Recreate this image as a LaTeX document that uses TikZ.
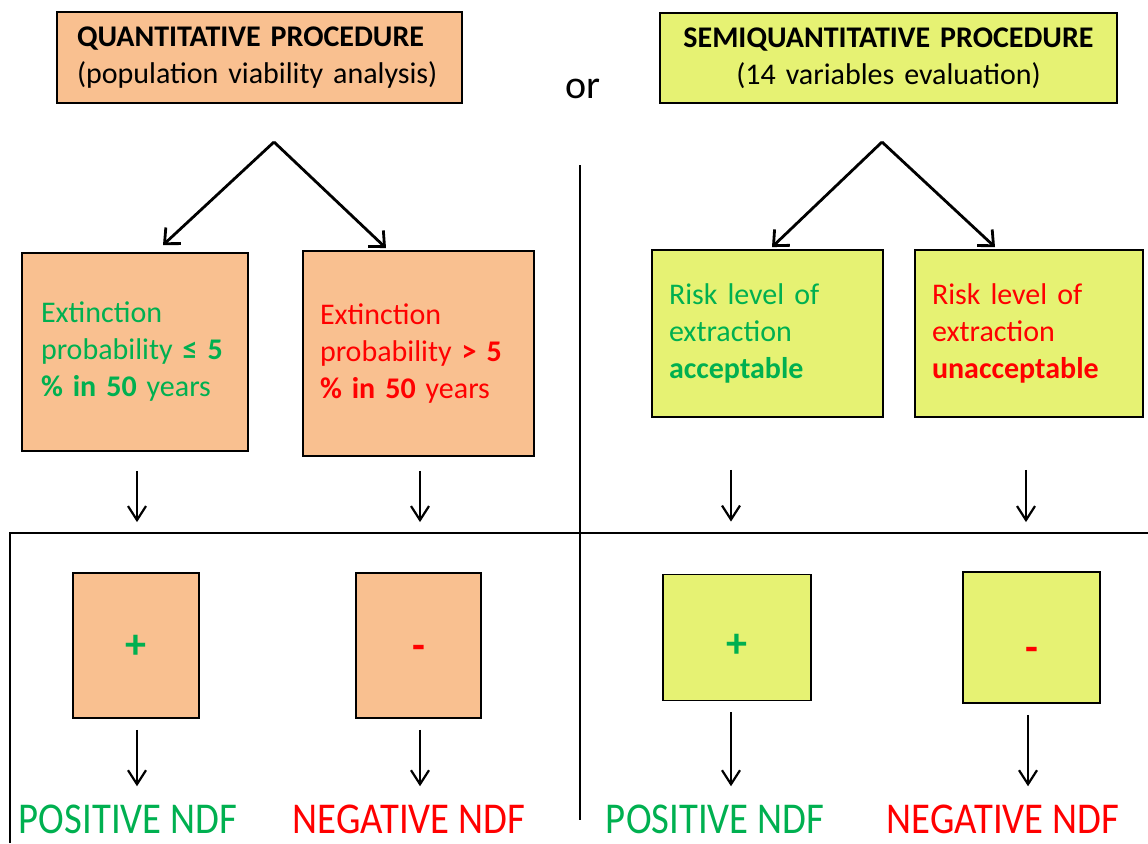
\documentclass[tikz,border=0pt]{standalone}
\usepackage{fontspec}
\setmainfont{Carlito}
\usetikzlibrary{arrows.meta}
\definecolor{peach}{HTML}{F9C090}
\definecolor{lime}{HTML}{E6F273}
\definecolor{okgreen}{HTML}{00B050}
\definecolor{badred}{HTML}{FF0000}
\newcommand{\boxfont}{\fontsize{30}{37}\selectfont}
\newcommand{\signfont}{\fontsize{42}{48}\selectfont\bfseries}
\newcommand{\ndffont}{\fontsize{44}{50}\selectfont}
\tikzset{
  box/.style={draw, line width=1.8pt, inner sep=0pt, font=\boxfont},
  peachbox/.style={box, fill=peach},
  limebox/.style={box, fill=lime},
  signbox/.style={font=\signfont, text height=20pt, text depth=0pt},
  split/.style={-{Straight Barb[length=12pt,width=22pt]}, line width=2.8pt},
  down/.style={-{Straight Barb[length=14pt,width=18pt]}, line width=2.2pt},
  ndf/.style={font=\ndffont, anchor=base, inner sep=0pt}
}
\begin{document}
\begin{tikzpicture}[x=1pt, y=-1pt]
\useasboundingbox (0,0) rectangle (1148,843);
% Procedures
\node[peachbox, minimum width=405pt, minimum height=91pt, text width=365pt, align=left]
  (quant) at (259.5,57.5) {\textbf{QUANTITATIVE PROCEDURE}\\(population viability analysis)};
\node[limebox, minimum width=457pt, minimum height=90pt, text width=420pt, align=center]
  (semi) at (888.5,58) {\textbf{SEMIQUANTITATIVE PROCEDURE}\\(14 variables evaluation)};
\node[font=\fontsize{40}{48}\selectfont, anchor=base] (or) at (583,98) {or};
% Results
\node[peachbox, minimum width=226pt, minimum height=198pt, text width=188pt, align=left, text=okgreen]
  (l1) at (135,352) {Extinction\\probability \textbf{≤ 5}\\\textbf{\% in 50} years};
\node[peachbox, minimum width=231pt, minimum height=205pt, text width=197pt, align=left, text=badred]
  (l2) at (418.5,353.5) {Extinction\\probability \textbf{> 5}\\\textbf{\% in 50} years};
\node[limebox, minimum width=231pt, minimum height=167pt, text width=197pt, align=left, text=okgreen]
  (r1) at (767.5,333.5) {Risk level of\\extraction\\\textbf{acceptable}};
\node[limebox, minimum width=228pt, minimum height=167pt, text width=194pt, align=left, text=badred]
  (r2) at (1029,333.5) {Risk level of\\extraction\\\textbf{unacceptable}};
% Signs
\node[peachbox, signbox, minimum width=126pt, minimum height=145pt, text=okgreen] (s1) at (136,645.5) {\raisebox{-3pt}{+}};
\node[peachbox, signbox, minimum width=125pt, minimum height=145pt, text=badred] (s2) at (418.5,645.5) {\raisebox{-4pt}{-}};
\node[limebox, signbox, minimum width=148pt, minimum height=126pt, text=okgreen] (s3) at (737,637.5) {\raisebox{-10pt}{+}};
\node[limebox, signbox, minimum width=137pt, minimum height=131pt, text=badred] (s4) at (1031.5,637.5) {\raisebox{-14pt}{-}};
% Outcomes
\node[ndf, text=okgreen] (p1) at (128,833) {\scalebox{0.88}[1]{POSITIVE NDF}};
\node[ndf, text=badred] (n1) at (409,833) {\scalebox{0.88}[1]{NEGATIVE NDF}};
\node[ndf, text=okgreen] (p2) at (715,833) {\scalebox{0.88}[1]{POSITIVE NDF}};
\node[ndf, text=badred] (n2) at (1003,833) {\scalebox{0.88}[1]{NEGATIVE NDF}};
% Branches
\coordinate (qsplit) at (274,142);
\coordinate (ssplit) at (882,142);
\draw[split] (qsplit) -- ([xshift=28pt,yshift=7pt]l1.north);
\draw[split] (qsplit) -- ([xshift=-32.5pt,yshift=2pt]l2.north);
\draw[split] (ssplit) -- ([xshift=4.5pt,yshift=2pt]r1.north);
\draw[split] (ssplit) -- ([xshift=-34pt,yshift=2pt]r2.north);
% Down arrows
\foreach \a/\b/\x/\s/\e in {l1/s1/137/19pt/50pt, l2/s2/420/14pt/50pt,
                            r1/s3/731/52pt/52pt, r2/s4/1026/52pt/49pt}
  \draw[down, shorten <=\s, shorten >=\e] (\a.south -| \x,0) -- (\b.north -| \x,0);
\foreach \a/\b/\x in {s1/p1/137, s2/n1/420, s3/p2/731, s4/n2/1028}
  \draw[down, shorten <=11pt, shorten >=18pt] (\a.south -| \x,0) -- (\b.north -| \x,0);
% Dividers
\draw[line width=2.2pt] (580,165) -- (580,820);
\draw[line width=1.6pt] (10,843) -- (10,533) -- (1148,533);
\end{tikzpicture}
\end{document}
